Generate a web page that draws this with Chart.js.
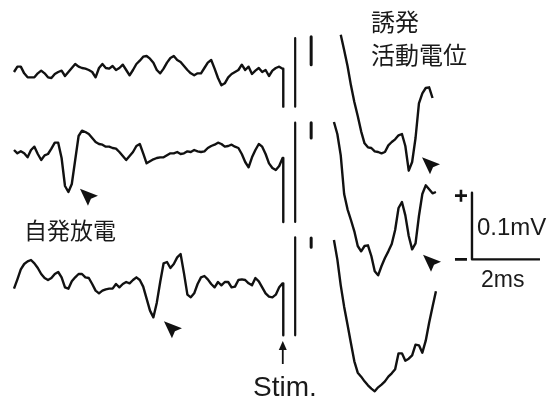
<!DOCTYPE html>
<html>
<head>
<meta charset="utf-8">
<script src="https://cdn.jsdelivr.net/npm/chart.js@4/dist/chart.umd.min.js"></script>
<style>
  html, body { margin: 0; padding: 0; background: #fff; }
  #wrap { width: 552px; height: 402px; }
</style>
</head>
<body>
<div id="wrap"><canvas id="c" width="552" height="402"></canvas></div>
<script>
// Sampling interval of the recordings (ms)
const dtMs = 0.1;
// Start of the post-stimulus (evoked) window on the time axis (ms)
const evokedStartMs = 9.41;

// Spontaneous activity before the stimulus, µV relative to each trace's resting level
const spont1 = [0,8,8,-2,-8,-8,-8,-2,2,-2,-8,-9,-3,0,2,-6,0,6,12,8,6,5,3,0,-8,6,12,6,5,9,3,6,11,3,-5,3,12,17,23,24,20,14,3,-2,5,14,21,24,18,15,9,3,-2,-5,-2,-2,6,14,18,5,-9,-20,-17,-8,-3,0,3,11,3,8,-3,2,6,0,3,-6,2,6,8,5];
const spont2 = [0,-5,-2,-5,-11,0,5,-6,-15,-8,-6,2,11,11,-12,-54,-63,-51,-15,21,29,27,24,18,12,9,8,5,5,3,2,-3,-9,-15,-9,-3,6,9,-5,-20,-17,-14,-12,-11,-11,-8,-5,-5,-3,-6,-5,-2,-3,0,-2,-3,-2,3,6,8,11,9,5,6,8,5,3,-6,-18,-26,-11,0,9,5,-6,-20,-27,-30,-24,-12];
const spont3 = [-5,9,24,32,36,38,33,26,17,11,8,11,17,20,12,-3,-5,6,12,17,17,12,11,2,-8,-12,-8,-6,-5,-5,2,-3,2,5,3,8,12,8,-2,-20,-38,-48,-26,5,33,35,26,32,42,47,18,-14,-18,-12,2,12,14,9,2,-3,5,0,5,5,-3,-2,8,9,8,3,0,11,6,-3,-12,-17,-18,-14,-3,3];

// Evoked responses after the stimulus, µV relative to each trace's resting level
const evoked1 = [null,null,56,33,9,-20,-45,-66,-89,-107,-113,-114,-119,-120,-122,-120,-110,-105,-101,-95,-93,-111,-148,-135,-99,-47,-32,-24,-23,-39];
const evoked2 = [42,24,-8,-66,-89,-105,-122,-144,-152,-144,-143,-159,-182,-188,-174,-162,-152,-141,-120,-87,-78,-98,-129,-149,-140,-99,-66,-53,-59,-65,-63];
const evoked3 = [68,39,0,-32,-59,-87,-114,-131,-137,-144,-150,-155,-159,-153,-149,-144,-137,-132,-126,-102,-102,-113,-110,-105,-89,-90,-101,-83,-56,-32,-9];

// Stimulus artefact (blanked): times of the three artefact strokes (ms)
const artifactTimesMs = [7.92, 8.27, 8.74];
// Artefact stroke extents per trace, µV: [top, bottom] for strokes A (drop), B (bar), C (tick)
const artifact1 = [[5, -52], [51, -52], [53, 11]];
const artifact2 = [[-12, -108], [41, -108], [41, 18]];
const artifact3 = [[3, -75], [72, -75], [71, 57]];

// Vertical stacking of the three sweeps (µV)
const traceOffsetsUV = [-108, -225, -428];

// Arrowheads marking the events: sweep index, time (ms), level (µV)
const eventMarks = [
  { trace: 1, t: 1.94, v: -58 },
  { trace: 2, t: 4.41, v: -54 },
  { trace: 0, t: 12.0, v: -128 },
  { trace: 1, t: 12.03, v: -157 }
];

// Calibration bar
const scaleBarMs = 2;
const scaleBarUV = 100;
const scaleBarOrigin = { t: 13.47, v: -389 };

const spontSets = [spont1, spont2, spont3];
const evokedSets = [evoked1, evoked2, evoked3];
const artifactSets = [artifact1, artifact2, artifact3];

const INK = '#111';
const datasets = [];

spontSets.forEach((vals, i) => {
  const off = traceOffsetsUV[i];
  const art = artifactSets[i];
  const pts = vals.map((v, k) => ({ x: k * dtMs, y: off + v }));
  // the sweep runs into the artefact and drops with it
  pts.push({ x: artifactTimesMs[0], y: off + art[0][0] });
  pts.push({ x: artifactTimesMs[0], y: off + art[0][1] });
  datasets.push({ data: pts, borderWidth: 2.4 });
  datasets.push({ data: [
    { x: artifactTimesMs[1], y: off + art[1][0] },
    { x: artifactTimesMs[1], y: off + art[1][1] }
  ], borderWidth: 2.2 });
  datasets.push({ data: [
    { x: artifactTimesMs[2], y: off + art[2][0] },
    { x: artifactTimesMs[2], y: off + art[2][1] }
  ], borderWidth: 3 });
});

evokedSets.forEach((vals, i) => {
  const off = traceOffsetsUV[i];
  const pts = vals.map((v, k) => ({ x: evokedStartMs + k * dtMs, y: v === null ? null : off + v }));
  datasets.push({ data: pts, borderWidth: 2.4 });
});

datasets.push({
  data: [
    { x: scaleBarOrigin.t, y: scaleBarOrigin.v + scaleBarUV },
    { x: scaleBarOrigin.t, y: scaleBarOrigin.v },
    { x: scaleBarOrigin.t + scaleBarMs, y: scaleBarOrigin.v }
  ],
  borderWidth: 2.4
});

datasets.forEach(d => {
  d.borderColor = INK;
  d.pointRadius = 0;
  d.tension = 0;
  d.fill = false;
  d.spanGaps = false;
  d.borderJoinStyle = 'round';
  d.borderCapStyle = 'butt';
});

const annotations = {
  id: 'annotations',
  afterDatasetsDraw(chart) {
    const ctx = chart.ctx;
    const xs = chart.scales.x, ys = chart.scales.y;
    ctx.save();

    // event arrowheads
    ctx.fillStyle = INK;
    eventMarks.forEach(m => {
      const px = xs.getPixelForValue(m.t);
      const py = ys.getPixelForValue(traceOffsetsUV[m.trace] + m.v);
      ctx.beginPath();
      ctx.moveTo(px, py);
      ctx.lineTo(px + 18, py + 7);
      ctx.lineTo(px + 11, py + 10);
      ctx.lineTo(px + 8, py + 17);
      ctx.closePath();
      ctx.fill();
    });

    // stimulus arrow
    const sx = xs.getPixelForValue(artifactTimesMs[0]) - 0.5;
    ctx.strokeStyle = INK;
    ctx.lineWidth = 1.8;
    ctx.beginPath();
    ctx.moveTo(sx, 348);
    ctx.lineTo(sx, 364);
    ctx.stroke();
    ctx.beginPath();
    ctx.moveTo(sx, 341);
    ctx.lineTo(sx - 4, 350);
    ctx.lineTo(sx + 4, 350);
    ctx.closePath();
    ctx.fill();

    // scale bar polarity marks
    const bx = xs.getPixelForValue(scaleBarOrigin.t);
    const byTop = ys.getPixelForValue(scaleBarOrigin.v + scaleBarUV);
    const byBot = ys.getPixelForValue(scaleBarOrigin.v);
    ctx.lineWidth = 2.6;
    ctx.beginPath();
    ctx.moveTo(bx - 17, byTop + 3); ctx.lineTo(bx - 5, byTop + 3);
    ctx.moveTo(bx - 11, byTop - 3); ctx.lineTo(bx - 11, byTop + 9);
    ctx.moveTo(bx - 17, byBot); ctx.lineTo(bx - 5, byBot);
    ctx.stroke();

    // labels
    ctx.fillStyle = '#1a1a1a';
    ctx.textBaseline = 'middle';
    ctx.textAlign = 'left';
    ctx.font = '24px "Noto Sans CJK JP", sans-serif';
    ctx.fillText('誘発', 371, 22);
    ctx.fillText('活動電位', 371, 55);
    ctx.font = '23px "Noto Sans CJK JP", sans-serif';
    ctx.fillText('自発放電', 24, 230);

    ctx.textBaseline = 'alphabetic';
    ctx.font = '24px "Liberation Sans", Arial, sans-serif';
    ctx.fillText('0.1mV', 477, 235);
    ctx.font = '23px "Liberation Sans", Arial, sans-serif';
    ctx.fillText('2ms', 481, 287);
    ctx.textAlign = 'center';
    ctx.font = '28px "Liberation Sans", Arial, sans-serif';
    ctx.fillText('Stim.', 285, 396);
    ctx.restore();
  }
};

new Chart(document.getElementById('c'), {
  type: 'line',
  data: { datasets },
  options: {
    responsive: false,
    animation: false,
    events: [],
    layout: { padding: 0 },
    plugins: { legend: { display: false }, tooltip: { enabled: false } },
    scales: {
      x: { type: 'linear', display: false, min: -14 / 34, max: 538 / 34 },
      y: { type: 'linear', display: false, min: -603, max: 0 }
    }
  },
  plugins: [annotations]
});
</script>
</body>
</html>
